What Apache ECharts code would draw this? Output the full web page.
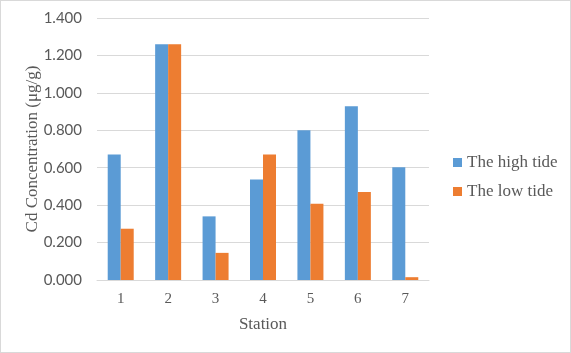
<!DOCTYPE html>
<html>
<head>
<meta charset="utf-8">
<script src="https://cdn.jsdelivr.net/npm/echarts@6/dist/echarts.min.js"></script>
<style>
  html, body { margin: 0; padding: 0; background: #fff; }
  #chart { width: 569px; height: 351px; border: 1px solid #d9d9d9; }
</style>
</head>
<body>
<div id="chart"></div>
<script>
var stations = ['1', '2', '3', '4', '5', '6', '7']
var highTide = [0.670, 1.260, 0.340, 0.537, 0.800, 0.928, 0.603]
var lowTide = [0.274, 1.260, 0.145, 0.670, 0.408, 0.470, 0.015]

var myChart = echarts.init(document.getElementById('chart'))
var serif = 'Liberation Serif'
var option = {
  animation: false,
  color: ['#5B9BD5', '#ED7D31'],
  grid: {
    left: 96,
    right: 141,
    top: 17,
    bottom: 72
  },
  legend: {
    orient: 'vertical',
    left: 447,
    top: 148,
    itemWidth: 9,
    itemHeight: 9,
    itemGap: 12,
    icon: 'rect',
    textStyle: { color: '#595959', fontFamily: serif, fontSize: 17 },
    data: ['The high tide', 'The low tide']
  },
  xAxis: {
    type: 'category',
    data: stations,
    name: 'Station',
    nameLocation: 'middle',
    nameGap: 36,
    nameMoveOverlap: false,
    nameTextStyle: { color: '#595959', fontFamily: serif, fontSize: 17 },
    axisLine: { lineStyle: { color: '#d9d9d9' } },
    axisTick: { show: false },
    axisLabel: { color: '#595959', fontFamily: serif, fontSize: 15, margin: 12 }
  },
  yAxis: {
    type: 'value',
    min: 0,
    max: 1.4,
    interval: 0.2,
    name: 'Cd Concentration (μg/g)',
    nameLocation: 'middle',
    nameGap: 56,
    nameMoveOverlap: false,
    nameTextStyle: { color: '#595959', fontFamily: serif, fontSize: 17 },
    axisLine: { show: false },
    axisTick: { show: false },
    splitLine: { lineStyle: { color: '#d9d9d9' } },
    axisLabel: {
      color: '#595959',
      fontFamily: 'Lato',
      fontSize: 15,
      margin: 15,
      formatter: function (v) { return v.toFixed(3) }
    }
  },
  series: [
    {
      name: 'The high tide',
      type: 'bar',
      barWidth: 13,
      barGap: '0%',
      data: highTide
    },
    {
      name: 'The low tide',
      type: 'bar',
      barWidth: 13,
      data: lowTide
    }
  ]
}
myChart.setOption(option)
</script>
</body>
</html>
